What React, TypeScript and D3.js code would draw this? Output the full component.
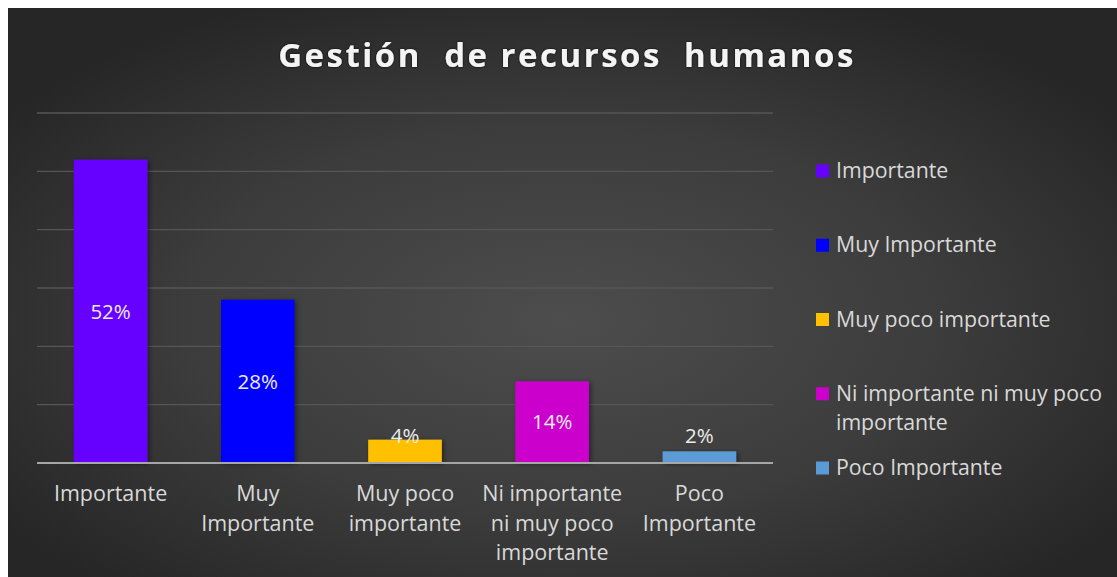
import React from "react";
import * as d3 from "d3";

const categories = ["Importante", "Muy Importante", "Muy poco importante", "Ni importante ni muy poco importante", "Poco Importante"];
const axisLabelLines = [["Importante"], ["Muy", "Importante"], ["Muy poco", "importante"], ["Ni importante", "ni muy poco", "importante"], ["Poco", "Importante"]];
const legendLines = [["Importante"], ["Muy Importante"], ["Muy poco importante"], ["Ni importante ni muy poco", "importante"], ["Poco Importante"]];
const values = [52, 28, 4, 14, 2];
const colors = ["#6600FF", "#0000FF", "#FFC000", "#CC00CC", "#5B9BD5"];
const yTicks = [0, 10, 20, 30, 40, 50, 60];

const W = 1117;
const H = 577;
const FONT = "'Open Sans', 'DejaVu Sans', sans-serif";

export default function App() {
  const x = d3.scaleBand<string>().domain(categories).range([37, 773]).paddingInner(0.5).paddingOuter(0.25);
  const y = d3.scaleLinear().domain([0, 60]).range([463, 113]);
  const legendY = d3.scaleLinear().domain([0, 4]).range([171, 468]);

  return (
    <svg width={W} height={H} style={{ position: "fixed", left: 0, top: 0 }} xmlns="http://www.w3.org/2000/svg">
      <defs>
        <radialGradient id="bg" cx="0.5" cy="0.55" r="0.62" fx="0.5" fy="0.55">
          <stop offset="0" stopColor="#4d4d4d" />
          <stop offset="0.55" stopColor="#3c3c3c" />
          <stop offset="1" stopColor="#262626" />
        </radialGradient>
        <filter id="shadow" x="-20%" y="-20%" width="150%" height="150%">
          <feDropShadow dx="2" dy="1" stdDeviation="2.5" floodColor="#000" floodOpacity="0.45" />
        </filter>
        <filter id="tshadow" x="-5%" y="-30%" width="110%" height="160%">
          <feDropShadow dx="0" dy="0" stdDeviation="1.2" floodColor="#000" floodOpacity="0.9" />
        </filter>
      </defs>
      <rect x={0} y={0} width={W} height={H} fill="#ffffff" />
      <rect x={8} y={8} width={W - 8} height={H - 8} fill="url(#bg)" />

      <text x={567} y={67} textAnchor="middle" fill="#f4f4f4" fontFamily={FONT} fontWeight={700} fontSize={33} letterSpacing={2.5} filter="url(#tshadow)" style={{ whiteSpace: "pre" }}>
        {"Gestión  de recursos  humanos"}
      </text>

      {yTicks.filter((t) => t > 0).map((t) => (
        <line key={t} x1={37} x2={773} y1={y(t)} y2={y(t)} stroke="#565656" strokeWidth={1.3} />
      ))}

      {categories.map((c, i) => (
        <rect key={c} x={x(c)} y={y(values[i])} width={x.bandwidth()} height={y(0) - y(values[i])} fill={colors[i]} filter="url(#shadow)" />
      ))}

      <line x1={37} x2={773} y1={y(0)} y2={y(0)} stroke="#a6a6a6" strokeWidth={2} />

      {categories.map((c, i) => {
        const cx = (x(c) as number) + x.bandwidth() / 2;
        const inside = values[i] >= 10;
        const cy = inside ? (y(values[i]) + y(0)) / 2 : y(0) - 27;
        return (
          <text key={c} x={cx} y={cy} dy="0.35em" textAnchor="middle" fill="#ececec" fontFamily={FONT} fontSize={20.5}>
            {values[i] + "%"}
          </text>
        );
      })}

      {categories.map((c, i) => {
        const cx = (x(c) as number) + x.bandwidth() / 2;
        return (
          <text key={c} x={cx} y={501} textAnchor="middle" fill="#d9d9d9" fontFamily={FONT} fontSize={21.5}>
            {axisLabelLines[i].map((l, j) => (
              <tspan key={j} x={cx} y={501 + j * 29.5}>{l}</tspan>
            ))}
          </text>
        );
      })}

      {categories.map((c, i) => {
        const ly = legendY(i);
        return (
          <g key={c}>
            <rect x={816} y={ly - 6.5} width={13} height={13} fill={colors[i]} />
            <text x={836} y={ly + 7} fill="#d9d9d9" fontFamily={FONT} fontSize={21.3}>
              {legendLines[i].map((l, j) => (
                <tspan key={j} x={836} y={ly + 7 + j * 29}>{l}</tspan>
              ))}
            </text>
          </g>
        );
      })}
    </svg>
  );
}
